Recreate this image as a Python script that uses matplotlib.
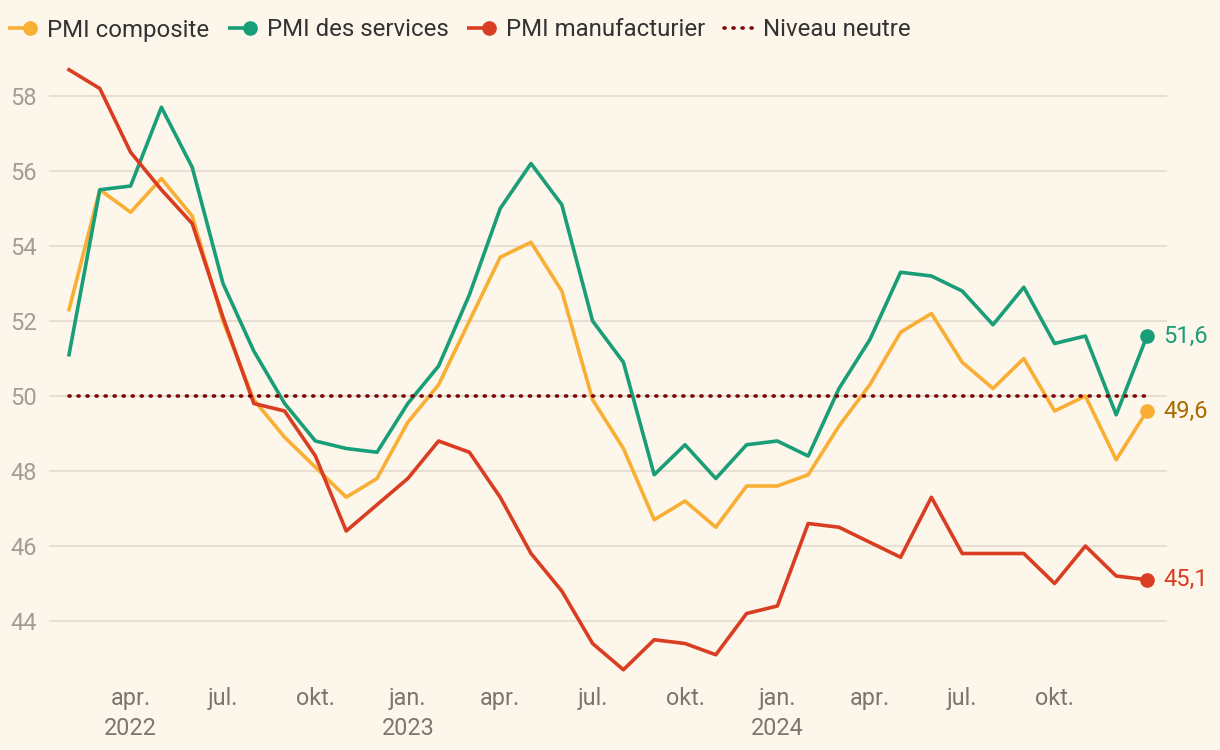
import matplotlib
matplotlib.use("Agg")
import matplotlib.pyplot as plt
from matplotlib.lines import Line2D
from matplotlib.legend_handler import HandlerBase
import numpy as np

# ---- data (monthly, Jan 2022 .. Dec 2024) ----
composite = [52.3, 55.5, 54.9, 55.8, 54.8, 52.0, 49.9, 48.9, 48.1, 47.3, 47.8, 49.3,
             50.3, 52.0, 53.7, 54.1, 52.8, 49.9, 48.6, 46.7, 47.2, 46.5, 47.6, 47.6,
             47.9, 49.2, 50.3, 51.7, 52.2, 50.9, 50.2, 51.0, 49.6, 50.0, 48.3, 49.6]
services = [51.1, 55.5, 55.6, 57.7, 56.1, 53.0, 51.2, 49.8, 48.8, 48.6, 48.5, 49.8,
            50.8, 52.7, 55.0, 56.2, 55.1, 52.0, 50.9, 47.9, 48.7, 47.8, 48.7, 48.8,
            48.4, 50.2, 51.5, 53.3, 53.2, 52.8, 51.9, 52.9, 51.4, 51.6, 49.5, 51.6]
manufacturing = [58.7, 58.2, 56.5, 55.5, 54.6, 52.1, 49.8, 49.6, 48.4, 46.4, 47.1, 47.8,
                 48.8, 48.5, 47.3, 45.8, 44.8, 43.4, 42.7, 43.5, 43.4, 43.1, 44.2, 44.4,
                 46.6, 46.5, 46.1, 45.7, 47.3, 45.8, 45.8, 45.8, 45.0, 46.0, 45.2, 45.1]
neutral = 50
series_names = ["PMI composite", "PMI des services", "PMI manufacturier"]
neutral_name = "Niveau neutre"
tick_labels = ["apr.\n2022", "jul.", "okt.", "jan.\n2023", "apr.", "jul.", "okt.",
               "jan.\n2024", "apr.", "jul.", "okt."]
y_ticks = [44, 46, 48, 50, 52, 54, 56, 58]

# ---- styling ----
BG = "#FDF6EA"
C_COMP = "#F9AE34"
C_SERV = "#1A9E78"
C_MANU = "#D93D22"
C_NEUT = "#7A0A0A"
LBL_COLORS = ["#A86C00", C_SERV, C_MANU]
FONT = ["Roboto", "DejaVu Sans"]
plt.rcParams["font.family"] = FONT
DOTS = (0, (0.3, 2.2))

W, H = 1220, 750
fig = plt.figure(figsize=(W / 100, H / 100), dpi=100, facecolor=BG)
ax_l, ax_r, ax_t, ax_b = 49, 1167, 62, 685
ax = fig.add_axes([ax_l / W, (H - ax_b) / H, (ax_r - ax_l) / W, (ax_b - ax_t) / H])
ax.set_facecolor(BG)

# positions: each monthly value placed at the end of its month (months since Jan 2022)
x = np.arange(len(composite)) + 1.0
tick_pos = np.arange(3, 3 * len(tick_labels) + 1, 3)

series = [composite, services, manufacturing]
colors = [C_COMP, C_SERV, C_MANU]
for vals, c in zip(series, colors):
    ax.plot(x, vals, color=c, lw=2.6, zorder=3)
    ax.plot(x[-1], vals[-1], "o", ms=9.5, color=c, zorder=4, clip_on=False)

for vals, lc in zip(series, LBL_COLORS):
    ax.annotate(f"{vals[-1]:.1f}".replace(".", ","), xy=(x[-1], vals[-1]),
                xytext=(12, 0), textcoords="offset points", ha="left", va="center",
                color=lc, fontsize=17, annotation_clip=False)

ax.plot([x[0], x[-1]], [neutral, neutral], color=C_NEUT, lw=2.6,
        linestyle=DOTS, dash_capstyle="round", zorder=5)

# axes
ax.set_xlim(1 - 20 / 30.8, 36 + 20 / 30.8)
ax.set_ylim(58 - (ax_b - 96) / 37.5, 58 + (96 - ax_t) / 37.5)
ax.set_yticks(y_ticks)
ax.set_yticklabels([str(v) for v in y_ticks])
ax.set_xticks(tick_pos)
ax.set_xticklabels(tick_labels, linespacing=1.38)
for s in ax.spines.values():
    s.set_visible(False)
ax.tick_params(axis="both", length=0)
ax.tick_params(axis="y", pad=9, labelsize=17, labelcolor="#A39D95")
ax.tick_params(axis="x", pad=1.5, labelsize=16.8, labelcolor="#7A7672")
ax.yaxis.grid(True, color="#E7DFD4", lw=1.5)
ax.set_axisbelow(True)


class EndDotHandler(HandlerBase):
    def create_artists(self, legend, orig_handle, xdescent, ydescent, width, height,
                       fontsize, trans):
        y = height / 2 - ydescent
        c = orig_handle.get_color()
        ln = Line2D([-xdescent, width - xdescent - 3], [y, y], color=c, lw=2.6,
                    solid_capstyle="butt")
        dot = Line2D([width - xdescent - 5], [y], marker="o", ms=9.5, color=c, lw=0)
        ln.set_transform(trans)
        dot.set_transform(trans)
        return [ln, dot]


handles = [Line2D([], [], color=c) for c in colors]
neut_handle = Line2D([], [], color=C_NEUT, lw=2.6, linestyle=DOTS,
                     dash_capstyle="round")
leg = fig.legend(handles + [neut_handle], series_names + [neutral_name],
                 loc="center left", bbox_to_anchor=(8 / W, 1 - 30 / H), ncol=4,
                 frameon=False, fontsize=17.3, handlelength=1.2, handletextpad=0.42,
                 columnspacing=0.78, borderpad=0, borderaxespad=0,
                 handler_map={h: EndDotHandler() for h in handles})
for t in leg.get_texts():
    t.set_color("#333333")

fig.savefig("out.png", dpi=100, facecolor=BG)
